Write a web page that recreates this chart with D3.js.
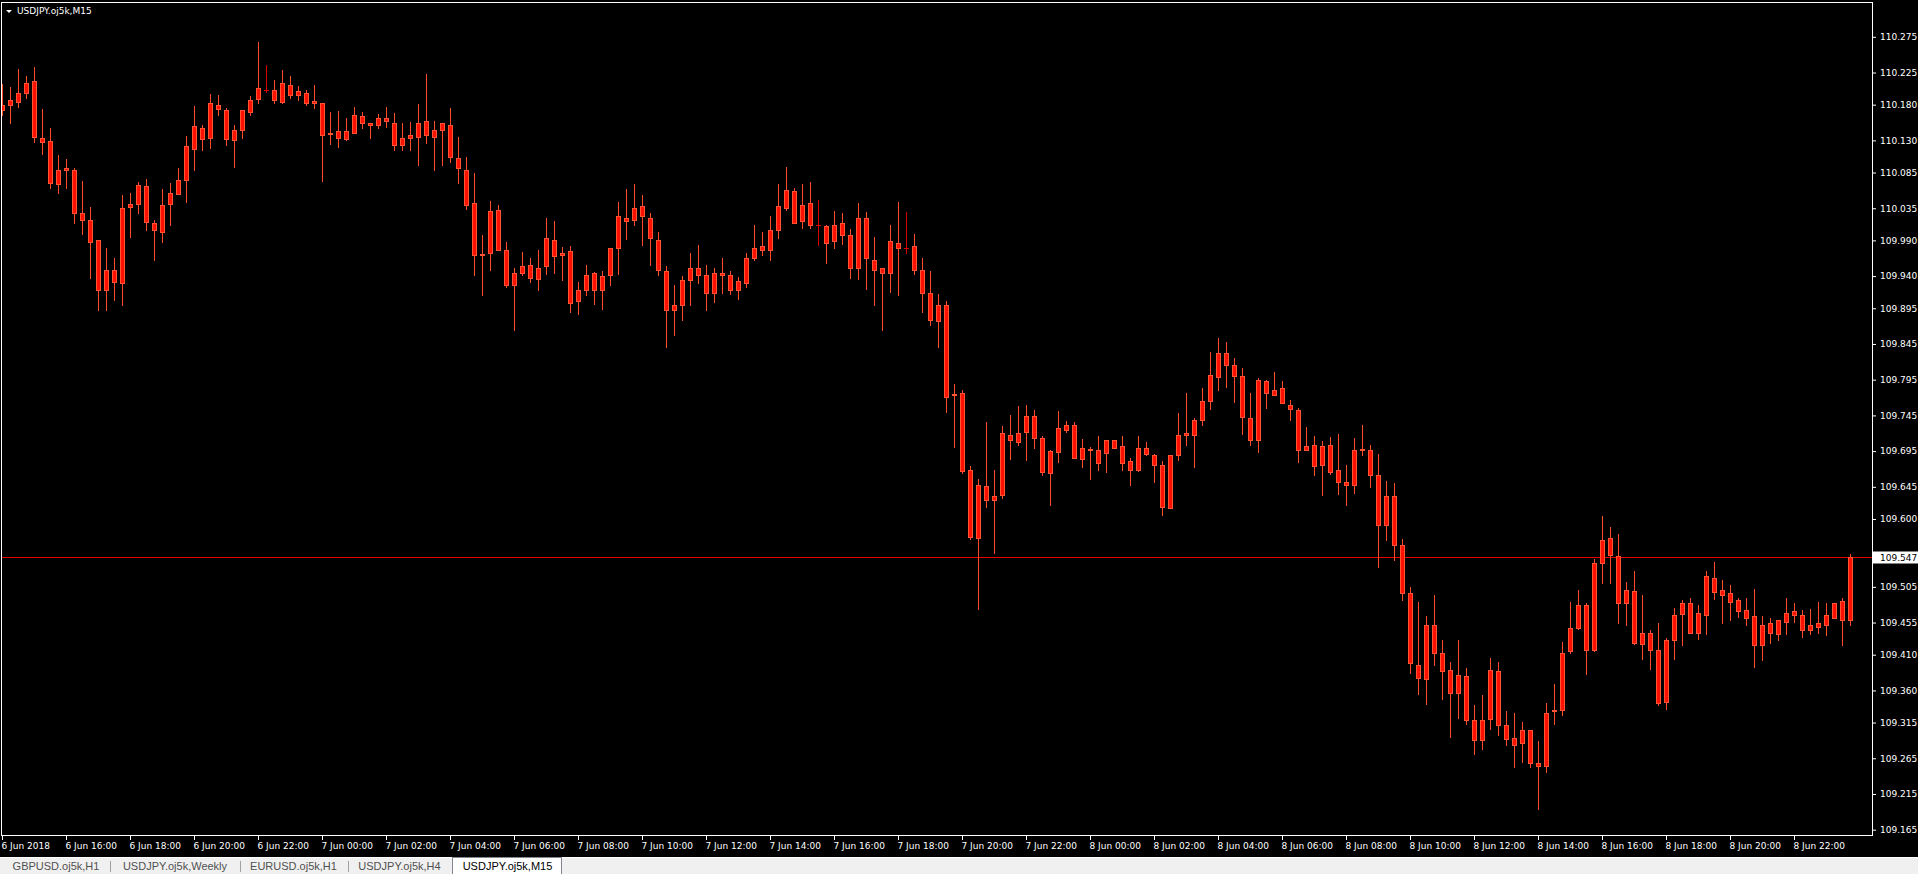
<!DOCTYPE html>
<html><head><meta charset="utf-8">
<script src="https://cdn.jsdelivr.net/npm/d3@7"></script>
<style>
html,body{margin:0;padding:0;background:#000;overflow:hidden}
svg{display:block}
</style></head><body>
<svg id="chart" width="1918" height="874"></svg>
<script>
// ---------- data ----------
const chartTitle = "USDJPY.oj5k,M15";
const firstBar = "2018-06-06T14:00:00";
const barMinutes = 15;

const openP = [
110.173,110.179,110.184,110.197,110.213,110.134,110.129,110.069,110.089,110.089,
110.029,110.019,109.990,109.920,109.949,109.931,110.037,110.041,110.066,110.015,
110.002,110.041,110.055,110.074,110.118,110.148,110.134,110.180,110.173,110.131,
110.145,110.170,110.188,110.201,110.200,110.184,110.208,110.194,110.197,110.183,
110.183,110.140,110.143,110.132,110.141,110.164,110.154,110.152,110.161,110.155,
110.124,110.134,110.135,110.157,110.135,110.144,110.152,110.106,110.089,110.042,
109.970,109.972,110.032,109.976,109.928,109.944,109.955,109.936,109.954,109.991,
109.969,109.975,109.905,109.920,109.944,109.920,109.941,109.979,110.022,110.018,
110.038,110.022,109.991,109.947,109.892,109.900,109.934,109.952,109.941,109.916,
109.944,109.942,109.920,109.931,109.966,109.982,109.976,110.004,110.036,110.059,
110.017,110.042,110.011,110.010,109.989,110.014,109.997,109.952,110.022,109.963,
109.951,109.944,109.987,109.980,109.982,109.948,109.916,109.877,109.900,109.773,
109.776,109.668,109.574,109.646,109.626,109.634,109.718,109.708,109.722,109.744,
109.714,109.665,109.694,109.725,109.732,109.684,109.697,109.696,109.693,109.710,
109.702,109.681,109.669,109.700,109.690,109.675,109.616,109.690,109.718,109.718,
109.739,109.765,109.799,109.832,109.816,109.800,109.742,109.711,109.793,109.774,
109.783,109.760,109.753,109.697,109.704,109.675,109.703,109.668,109.652,109.648,
109.697,109.697,109.662,109.591,109.632,109.564,109.497,109.396,109.376,109.451,
109.412,109.388,109.356,109.380,109.318,109.290,109.320,109.387,109.311,109.293,
109.286,109.305,109.258,109.254,109.331,109.332,109.415,109.448,109.479,109.417,
109.539,109.573,109.548,109.483,109.499,109.425,109.441,109.416,109.344,109.430,
109.467,109.483,109.441,109.466,109.518,109.500,109.496,109.486,109.472,109.464,
109.423,109.454,109.439,109.456,109.466,109.465,109.444,109.449,109.451,109.462,
109.485,109.458];

const highP = [
110.209,110.205,110.230,110.220,110.233,110.174,110.148,110.110,110.104,110.091,
110.073,110.037,109.990,109.979,109.966,110.054,110.057,110.072,110.076,110.019,
110.062,110.070,110.091,110.136,110.178,110.152,110.195,110.193,110.176,110.151,
110.173,110.192,110.268,110.236,110.214,110.228,110.220,110.206,110.201,110.208,
110.183,110.170,110.171,110.161,110.177,110.170,110.154,110.167,110.177,110.168,
110.154,110.156,110.181,110.223,110.157,110.155,110.175,110.135,110.107,110.084,
109.998,110.045,110.040,109.988,109.952,109.974,109.965,109.977,110.021,110.017,
109.981,109.982,109.932,109.956,109.946,109.947,109.980,110.044,110.062,110.069,
110.054,110.029,110.002,109.954,109.928,109.940,109.972,109.984,109.955,109.952,
109.965,109.947,109.939,109.972,110.012,110.002,110.024,110.069,110.093,110.063,
110.069,110.072,110.047,110.011,110.031,110.028,110.006,110.042,110.030,109.995,
109.951,110.012,110.044,110.030,109.999,109.965,109.947,109.915,109.905,109.789,
109.781,109.674,109.656,109.736,109.668,109.730,109.746,109.758,109.759,109.753,
109.716,109.697,109.751,109.737,109.736,109.712,109.701,109.716,109.711,109.710,
109.716,109.685,109.716,109.708,109.691,109.681,109.689,109.748,109.776,109.741,
109.783,109.834,109.853,109.848,109.825,109.811,109.776,109.797,109.795,109.806,
109.793,109.767,109.755,109.729,109.716,109.709,109.715,109.719,109.675,109.713,
109.732,109.704,109.691,109.653,109.650,109.572,109.505,109.484,109.464,109.494,
109.431,109.400,109.431,109.391,109.340,109.354,109.405,109.400,109.331,109.328,
109.316,109.305,109.289,109.342,109.369,109.428,109.484,109.501,109.482,109.544,
109.604,109.589,109.579,109.512,109.527,109.494,109.444,109.454,109.433,109.475,
109.486,109.490,109.479,109.527,109.540,109.515,109.508,109.490,109.490,109.502,
109.464,109.461,109.459,109.489,109.483,109.473,109.474,109.484,109.483,109.483,
109.490,109.551];

const lowP = [
110.166,110.155,110.177,110.190,110.128,110.111,110.064,110.057,110.064,110.015,
109.999,109.938,109.892,109.892,109.906,109.900,109.995,110.029,110.004,109.963,
109.988,110.011,110.055,110.044,110.089,110.117,110.120,110.165,110.124,110.093,
110.134,110.166,110.182,110.198,110.183,110.183,110.190,110.187,110.180,110.175,
110.073,110.125,110.121,110.131,110.141,110.148,110.134,110.148,110.149,110.117,
110.117,110.117,110.095,110.127,110.089,110.096,110.100,110.071,110.034,109.942,
109.913,109.949,109.976,109.925,109.865,109.941,109.932,109.920,109.943,109.945,
109.934,109.890,109.887,109.913,109.901,109.894,109.927,109.943,109.992,110.011,
109.983,109.955,109.942,109.841,109.858,109.879,109.900,109.931,109.893,109.904,
109.917,109.915,109.908,109.925,109.962,109.969,109.962,109.994,110.032,110.015,
110.008,110.008,109.983,109.959,109.980,109.985,109.938,109.936,109.922,109.900,
109.865,109.918,109.914,109.973,109.943,109.890,109.871,109.841,109.750,109.701,
109.665,109.572,109.474,109.617,109.553,109.630,109.684,109.703,109.683,109.700,
109.662,109.619,109.680,109.722,109.686,109.673,109.656,109.669,109.666,109.700,
109.669,109.648,109.667,109.690,109.652,109.605,109.616,109.683,109.703,109.673,
109.732,109.754,109.781,109.785,109.764,109.719,109.704,109.694,109.756,109.774,
109.762,109.739,109.680,109.696,109.661,109.634,109.663,109.635,109.619,109.637,
109.689,109.645,109.533,109.570,109.543,109.486,109.385,109.355,109.341,109.396,
109.348,109.295,109.322,109.313,109.271,109.278,109.306,109.297,109.283,109.253,
109.260,109.253,109.194,109.246,109.313,109.326,109.412,109.446,109.383,109.415,
109.511,109.511,109.455,109.452,109.425,109.404,109.390,109.339,109.334,109.404,
109.424,109.441,109.432,109.439,109.488,109.455,109.459,109.463,109.451,109.393,
109.403,109.427,109.430,109.439,109.456,109.435,109.439,109.441,109.437,109.462,
109.424,109.452];

const closeP = [
110.180,110.186,110.197,110.211,110.135,110.128,110.071,110.089,110.091,110.029,
110.018,109.988,109.920,109.949,109.932,110.036,110.041,110.067,110.016,110.004,
110.039,110.057,110.074,110.122,110.150,110.132,110.182,110.174,110.132,110.145,
110.172,110.187,110.204,110.201,110.186,110.211,110.193,110.199,110.183,110.185,
110.138,110.141,110.134,110.143,110.166,110.155,110.152,110.162,110.157,110.123,
110.134,110.137,110.155,110.137,110.145,110.155,110.107,110.091,110.040,109.970,
109.971,110.031,109.977,109.927,109.945,109.954,109.938,109.952,109.993,109.968,
109.973,109.903,109.920,109.942,109.920,109.940,109.980,110.024,110.017,110.036,
110.024,109.993,109.948,109.892,109.899,109.934,109.951,109.942,109.916,109.945,
109.941,109.920,109.933,109.965,109.980,109.976,110.004,110.038,110.060,110.015,
110.040,110.011,110.011,109.987,110.012,109.997,109.951,110.021,109.965,109.949,
109.944,109.989,109.980,109.980,109.949,109.916,109.878,109.899,109.771,109.775,
109.667,109.575,109.647,109.627,109.632,109.720,109.710,109.721,109.744,109.713,
109.666,109.695,109.728,109.732,109.686,109.699,109.698,109.678,109.710,109.700,
109.679,109.668,109.699,109.691,109.676,109.617,109.689,109.718,109.720,109.739,
109.765,109.801,109.832,109.815,109.800,109.743,109.710,109.795,109.776,109.781,
109.762,109.754,109.696,109.702,109.674,109.702,109.666,109.652,109.647,109.696,
109.698,109.662,109.592,109.632,109.564,109.497,109.398,109.378,109.451,109.413,
109.387,109.356,109.381,109.319,109.290,109.319,109.388,109.312,109.292,109.284,
109.304,109.259,109.254,109.329,109.332,109.413,109.448,109.479,109.416,109.539,
109.571,109.549,109.483,109.500,109.427,109.441,109.417,109.343,109.430,109.466,
109.483,109.441,109.468,109.520,109.498,109.494,109.484,109.471,109.462,109.423,
109.452,109.441,109.458,109.469,109.471,109.445,109.452,109.454,109.465,109.483,
109.458,109.547];

const priceTicks = [110.275,110.225,110.180,110.130,110.085,110.035,109.990,109.940,109.895,
  109.845,109.795,109.745,109.695,109.645,109.600,109.505,109.455,109.410,109.360,109.315,
  109.265,109.215,109.165];
const priceMin = 109.165, priceMax = 110.275;
const currentPrice = 109.547;

const timeTickLabels = ["6 Jun 2018","6 Jun 16:00","6 Jun 18:00","6 Jun 20:00","6 Jun 22:00",
 "7 Jun 00:00","7 Jun 02:00","7 Jun 04:00","7 Jun 06:00","7 Jun 08:00","7 Jun 10:00",
 "7 Jun 12:00","7 Jun 14:00","7 Jun 16:00","7 Jun 18:00","7 Jun 20:00","7 Jun 22:00",
 "8 Jun 00:00","8 Jun 02:00","8 Jun 04:00","8 Jun 06:00","8 Jun 08:00","8 Jun 10:00",
 "8 Jun 12:00","8 Jun 14:00","8 Jun 16:00","8 Jun 18:00","8 Jun 20:00","8 Jun 22:00"];
const timeTickTimes = ["2018-06-06T14:00:00","2018-06-06T16:00:00","2018-06-06T18:00:00",
 "2018-06-06T20:00:00","2018-06-06T22:00:00","2018-06-07T00:00:00","2018-06-07T02:00:00",
 "2018-06-07T04:00:00","2018-06-07T06:00:00","2018-06-07T08:00:00","2018-06-07T10:00:00",
 "2018-06-07T12:00:00","2018-06-07T14:00:00","2018-06-07T16:00:00","2018-06-07T18:00:00",
 "2018-06-07T20:00:00","2018-06-07T22:00:00","2018-06-08T00:00:00","2018-06-08T02:00:00",
 "2018-06-08T04:00:00","2018-06-08T06:00:00","2018-06-08T08:00:00","2018-06-08T10:00:00",
 "2018-06-08T12:00:00","2018-06-08T14:00:00","2018-06-08T16:00:00","2018-06-08T18:00:00",
 "2018-06-08T20:00:00","2018-06-08T22:00:00"];

const tabNames = ["GBPUSD.oj5k,H1","USDJPY.oj5k,Weekly","EURUSD.oj5k,H1","USDJPY.oj5k,H4","USDJPY.oj5k,M15"];
const activeTab = 4;

// ---------- drawing ----------
const W = 1918, H = 874;
const frame = {left: 1, top: 2, right: 1872, bottom: 835};
const svg = d3.select("#chart");
const chartFont = "'DejaVu Sans', sans-serif";

svg.append("rect").attr("width", W).attr("height", H).attr("fill", "#000");

const t0 = new Date(firstBar);
const bars = openP.map((o, i) => ({
  t: new Date(t0.getTime() + i * barMinutes * 60000),
  o, h: highP[i], l: lowP[i], c: closeP[i]
}));

const x = d3.scaleTime()
  .domain([bars[0].t, bars[bars.length - 1].t])
  .range([2.5, 2.5 + 8 * (bars.length - 1)]);
const y = d3.scaleLinear().domain([priceMin, priceMax]).range([829.7, 36.8]);

// clip for plot
svg.append("clipPath").attr("id", "plotclip")
  .append("rect").attr("x", frame.left + 1).attr("y", frame.top + 1)
  .attr("width", frame.right - frame.left - 1).attr("height", frame.bottom - frame.top - 1);

const plot = svg.append("g").attr("clip-path", "url(#plotclip)");

// current price line
const yCur = Math.round(y(currentPrice)) + 0.5;
plot.append("line").attr("x1", frame.left).attr("x2", frame.right)
  .attr("y1", yCur).attr("y2", yCur).attr("stroke", "#e60000").attr("stroke-width", 1);

const wickCol = "#ff4b2b", bodyFill = "#ff1000", bodyStroke = "#ff5535", dojiCol = "#d80000";
const cg = plot.append("g");
bars.forEach(b => {
  const cx = x(b.t);
  const doji = b.o === b.c;
  cg.append("line").attr("x1", cx).attr("x2", cx)
    .attr("y1", Math.round(y(b.h))).attr("y2", Math.round(y(b.l)) + 1)
    .attr("stroke", doji ? dojiCol : wickCol).attr("stroke-width", 1);
  if (doji) {
    const yy = Math.round(y(b.o)) + 0.5;
    cg.append("line").attr("x1", cx - 2.5).attr("x2", cx + 2.5)
      .attr("y1", yy).attr("y2", yy).attr("stroke", dojiCol).attr("stroke-width", 1);
  } else {
    const yt = Math.round(y(Math.max(b.o, b.c)));
    const yb = Math.round(y(Math.min(b.o, b.c)));
    cg.append("rect").attr("x", cx - 2).attr("y", yt + 0.5)
      .attr("width", 4).attr("height", Math.max(1, yb - yt))
      .attr("fill", bodyFill).attr("stroke", bodyStroke).attr("stroke-width", 1);
  }
});

// frame
const fr = svg.append("g").attr("stroke", "#fff").attr("stroke-width", 1);
fr.append("line").attr("x1", frame.left + 0.5).attr("x2", frame.left + 0.5).attr("y1", frame.top).attr("y2", frame.bottom + 1);
fr.append("line").attr("x1", frame.left).attr("x2", frame.right + 1).attr("y1", frame.top + 0.5).attr("y2", frame.top + 0.5);
fr.append("line").attr("x1", frame.right + 0.5).attr("x2", frame.right + 0.5).attr("y1", frame.top).attr("y2", frame.bottom + 1);
fr.append("line").attr("x1", frame.left).attr("x2", frame.right + 1).attr("y1", frame.bottom + 0.5).attr("y2", frame.bottom + 0.5);

// price axis
const yAxis = d3.axisRight(y).tickValues(priceTicks).tickSize(3).tickPadding(4)
  .tickFormat(d3.format(".3f"));
const ya = svg.append("g").attr("transform", `translate(${frame.right + 1},0)`).call(yAxis);
ya.select(".domain").remove();
ya.selectAll("line").attr("stroke", "#fff");
ya.selectAll("text").attr("fill", "#fff").attr("font-family", chartFont).attr("font-size", "9px");

// current price label
svg.append("rect").attr("x", frame.right + 1).attr("y", yCur - 6).attr("width", W - frame.right - 1).attr("height", 12)
  .attr("fill", "#fff");
svg.append("text").attr("x", frame.right + 8).attr("y", yCur).attr("dy", "0.35em")
  .attr("fill", "#000").attr("font-family", chartFont).attr("font-size", "9px")
  .text(d3.format(".3f")(currentPrice));

// time axis
const tickDates = timeTickTimes.map(s => new Date(s));
const xAxis = d3.axisBottom(x).tickValues(tickDates).tickSize(4).tickPadding(3).offset(0)
  .tickFormat((d, i) => timeTickLabels[i]);
const xa = svg.append("g").attr("transform", `translate(0,${frame.bottom + 1})`).call(xAxis);
xa.select(".domain").remove();
xa.selectAll("line").attr("stroke", "#fff");
xa.selectAll("text").attr("fill", "#fff").attr("font-family", chartFont).attr("font-size", "9px")
  .attr("text-anchor", "start").attr("x", -1);

// title
svg.append("path").attr("d", "M6,10 L12,10 L9,13 Z").attr("fill", "#fff");
svg.append("text").attr("x", 17).attr("y", 11).attr("dy", "0.35em")
  .attr("fill", "#fff").attr("font-family", chartFont).attr("font-size", "9px").text(chartTitle);

// tab bar
const tabY = 857;
svg.append("rect").attr("x", 0).attr("y", tabY).attr("width", W).attr("height", H - tabY).attr("fill", "#f0f0f0");
svg.append("line").attr("x1", 0).attr("x2", W).attr("y1", tabY + 0.5).attr("y2", tabY + 0.5).attr("stroke", "#fff");
const tabCenters = [56, 175, 293.5, 399.5, 507.5];
const tabSeps = [110.5, 240.5, 348.5];
tabSeps.forEach(s => svg.append("line").attr("x1", s).attr("x2", s).attr("y1", 861).attr("y2", 872).attr("stroke", "#a0a0a0"));
svg.append("rect").attr("x", 452.5).attr("y", tabY + 0.5).attr("width", 109).attr("height", H - tabY)
  .attr("fill", "#fff").attr("stroke", "#828790");
tabNames.forEach((n, i) => {
  svg.append("text").attr("x", tabCenters[i]).attr("y", 866).attr("dy", "0.35em")
    .attr("text-anchor", "middle").attr("font-family", "'Liberation Sans', Arial, sans-serif")
    .attr("font-size", "11px").attr("fill", i === activeTab ? "#000" : "#505050").text(n);
});
</script>
</body></html>
